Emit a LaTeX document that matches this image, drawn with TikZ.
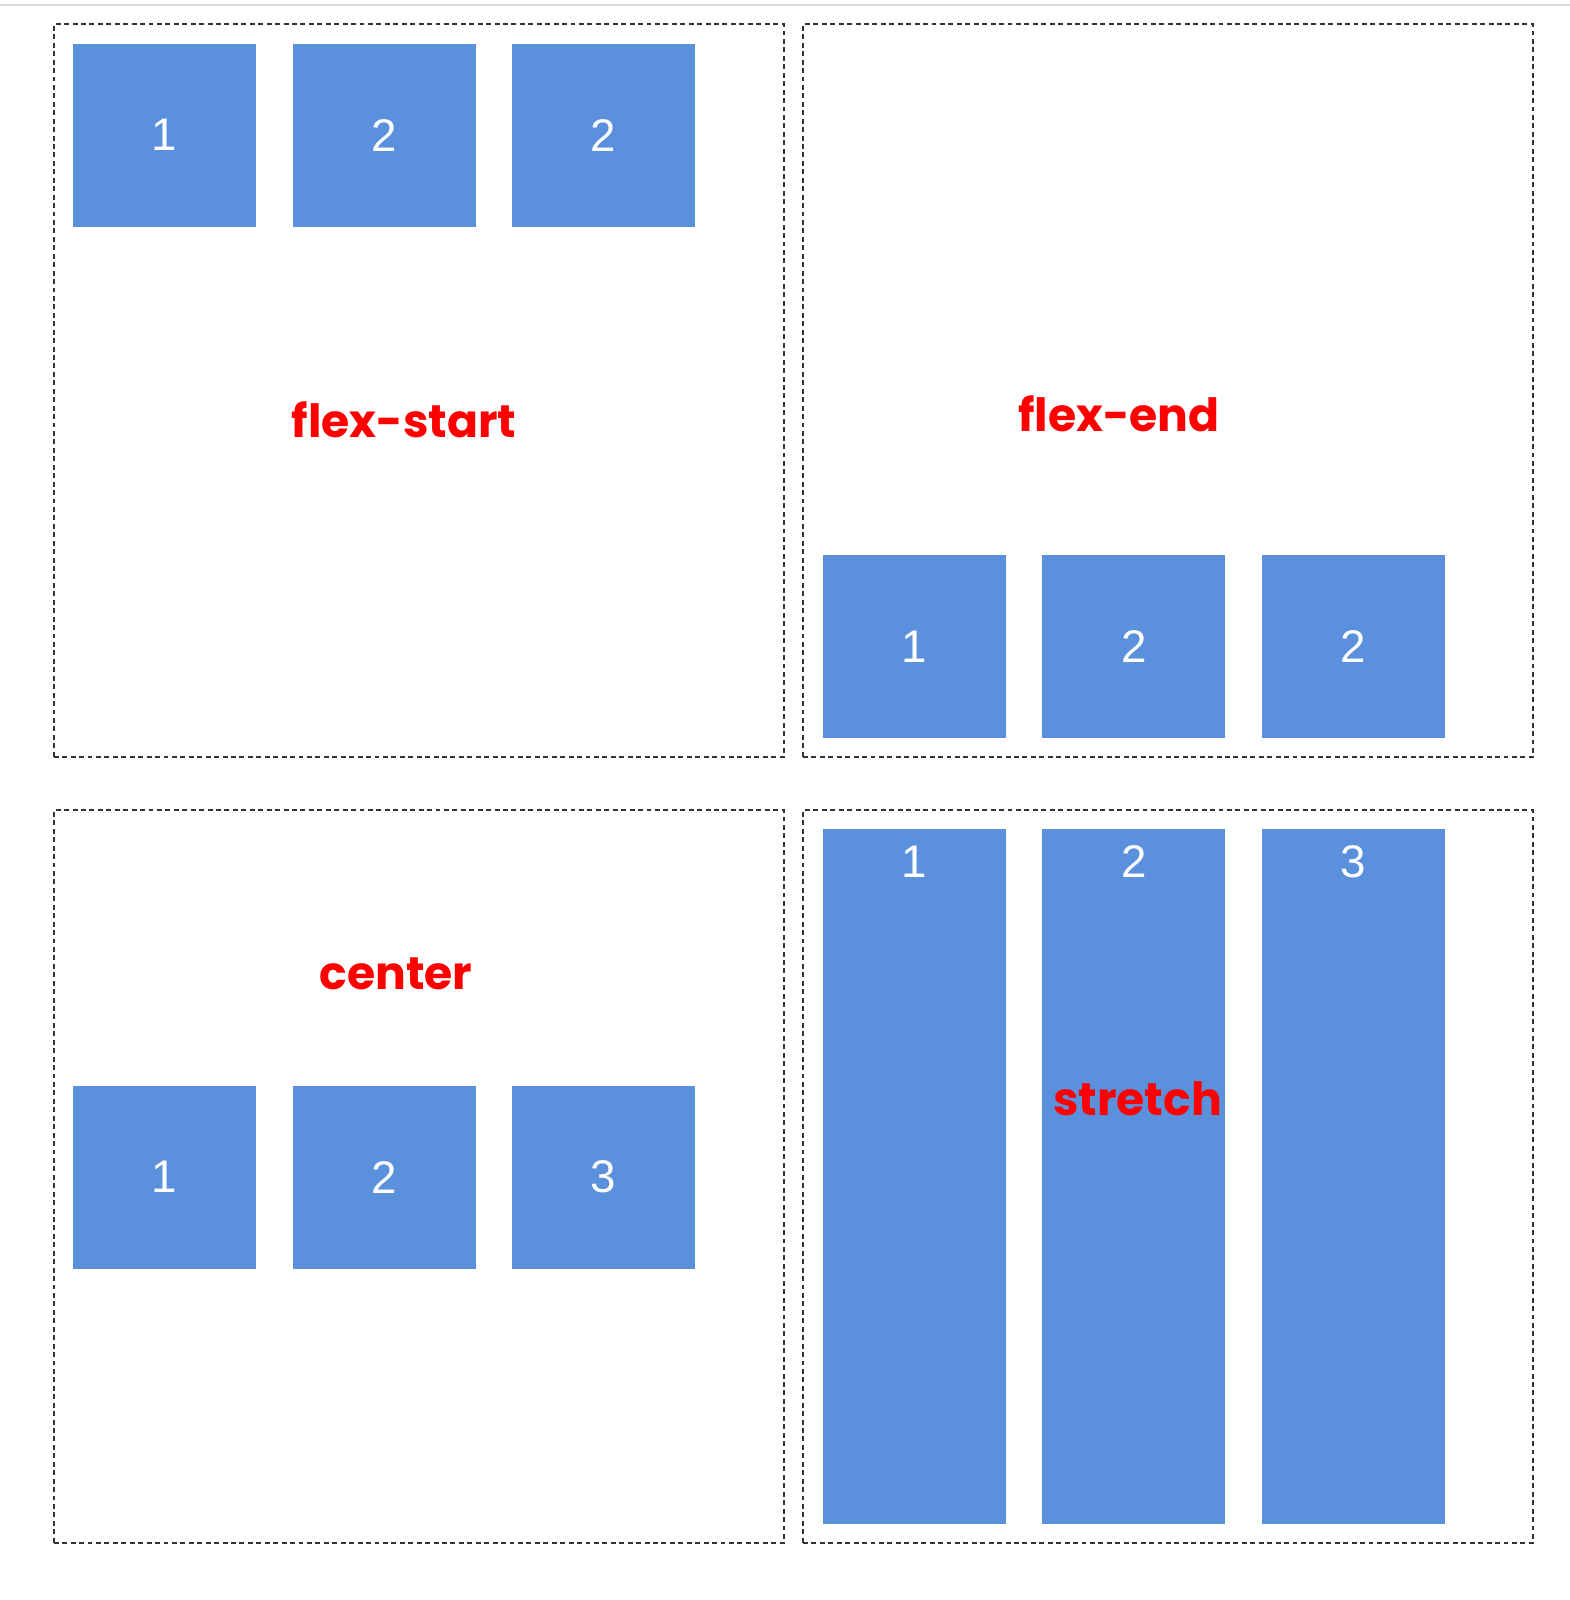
\documentclass[tikz,border=0pt]{standalone}
\usepackage{fontspec}
\setmainfont{Liberation Sans}
\newfontfamily\capfont{Poppins}
\usetikzlibrary{positioning}
\definecolor{itemblue}{RGB}{91,145,220}
\definecolor{capred}{RGB}{255,0,0}
\tikzstyle{panel} = [rectangle,draw=black!80,line width=0.55pt,
dash pattern=on 1.4pt off 1pt, minimum width=7.295cm, minimum height=7.325cm]
\tikzstyle{item} = [rectangle,fill=itemblue,inner sep=0pt,
minimum size=1.83cm, text=white, font=\fontsize{13}{13}\selectfont]
\tikzstyle{tall} = [item, minimum height=6.946cm]
\tikzstyle{caption} = [text=capred, font=\capfont\bfseries\fontsize{13}{13}\selectfont]
\newcommand{\itemrow}[4]{ %
  % Three items of one row, named #1a, #1b, #1c, at height #2.
  \node[item] (#1a) at (164.7,#2) {#3};
  \node[item] (#1b) at (384.1,#2) {#4};
  \node[item] (#1c) at (603.4,#2) {#4};
}
\begin{document}
\begin{tikzpicture}[x=0.01cm,y=-0.01cm]
  \useasboundingbox (0,0) rectangle (1570,1600);
  \draw[black!14, line width=0.6pt] (0,5) -- (1570,5);

  \node[panel] (start) at (418.75,390.75) {};
  \node[panel] (end) at (1168,390.75) {};
  \node[panel] (center) at (418.75,1176.75) {};
  \node[panel] (stretch) at (1168,1176.75) {};

  \itemrow{s}{135.2}{1}{2}
  \node[item] (ea) at (914.4,646.8) {1};
  \node[item] (eb) at (1133.8,646.8) {2};
  \node[item] (ec) at (1353.2,646.8) {2};
  \node[item] (ca) at (164.7,1177.2) {1};
  \node[item] (cb) at (384.1,1177.2) {2};
  \node[item] (cc) at (603.4,1177.2) {3};

  \foreach \n/\x/\t in {a/914.4/1, b/1133.8/2, c/1353.2/3} {
    \node[tall, label={[text=white, font=\fontsize{13}{13}\selectfont,
      anchor=center, yshift=-0.33cm]north:\t}] (t\n) at (\x,1176.7) {};
  }

  \node[caption] (lstart) at (404,420) {flex-start};
  \node[caption] (lend) at (1119,414) {flex-end};
  \node[caption] (lcenter) at (396,974) {center};
  \node[caption] (lstretch) at (1137.5,1099) {stretch};
\end{tikzpicture}
\end{document}
